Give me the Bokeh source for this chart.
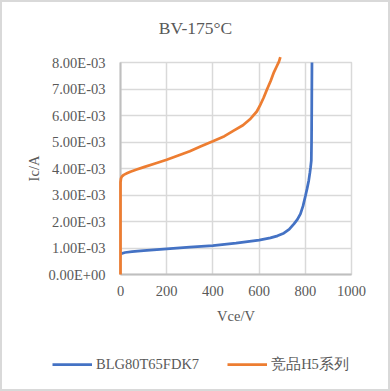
from bokeh.plotting import figure
from bokeh.layouts import column, row
from bokeh.models import Range1d, FixedTicker, CustomJSTickFormatter, Legend, LegendItem, Label
from bokeh.embed import file_html
from bokeh.resources import INLINE

# ---- data ----
blg_vce = [0, 20, 50, 100, 200, 300, 400, 500, 600, 649, 680, 707, 730, 751, 766, 779, 790,
           801, 808, 815, 820, 823, 826, 827, 828, 829]
blg_ic = [0.78e-3, 0.83e-3, 0.86e-3, 0.90e-3, 0.97e-3, 1.03e-3, 1.09e-3, 1.18e-3, 1.30e-3,
          1.38e-3, 1.46e-3, 1.56e-3, 1.70e-3, 1.91e-3, 2.08e-3, 2.29e-3, 2.58e-3, 2.98e-3,
          3.25e-3, 3.55e-3, 3.85e-3, 4.05e-3, 4.30e-3, 5.00e-3, 6.50e-3, 8.20e-3]

h5_vce = [0, 0, 2, 6, 14, 30, 43, 70, 101, 150, 200, 250, 300, 346, 400, 450, 490, 530, 563,
          590, 603, 620, 635, 650, 664, 676, 686, 692]
h5_ic = [0.0, 3.48e-3, 3.62e-3, 3.70e-3, 3.76e-3, 3.83e-3, 3.88e-3, 3.96e-3, 4.05e-3, 4.19e-3,
         4.33e-3, 4.49e-3, 4.65e-3, 4.83e-3, 5.03e-3, 5.22e-3, 5.43e-3, 5.63e-3, 5.88e-3,
         6.15e-3, 6.36e-3, 6.68e-3, 7.00e-3, 7.30e-3, 7.63e-3, 7.85e-3, 8.03e-3, 8.20e-3]

x_ticks = [0, 200, 400, 600, 800, 1000]
y_ticks = [0, 1e-3, 2e-3, 3e-3, 4e-3, 5e-3, 6e-3, 7e-3, 8e-3]

title_text = "BV-175°C"
x_label = "Vce/V"
y_label = "Ic/A"
series_names = ["BLG80T65FDK7", "竞品H5系列"]

BLUE = "#4472C4"
ORANGE = "#ED7D31"
TXT = "#595959"
GRID = "#d9d9d9"
FONT = "Liberation Serif"


def strip(height):
    f = figure(width=390, height=height, output_backend="svg", toolbar_location=None,
               x_range=Range1d(-2, -1), y_range=Range1d(-2, -1), title=None,
               min_border_left=0, min_border_right=0, min_border_top=0, min_border_bottom=0)
    f.axis.visible = False
    f.grid.visible = False
    f.outline_line_color = None
    f.background_fill_alpha = 0
    f.border_fill_alpha = 0
    return f


# ---- title strip ----
tf = strip(40)
tf.add_layout(Label(x=195, y=40 - 27, x_units="screen", y_units="screen", text=title_text,
                    text_align="center", text_baseline="middle", text_font=FONT,
                    text_font_size="17.5px", text_color=TXT))

# ---- main chart ----
p = figure(width=390, height=295, output_backend="svg", toolbar_location=None, title=None,
           x_range=Range1d(0, 1000), y_range=Range1d(0, 8e-3),
           min_border_left=120, min_border_right=39, min_border_top=22, min_border_bottom=61)

p.background_fill_color = "white"
p.border_fill_alpha = 0
p.outline_line_color = GRID
p.outline_line_width = 1.5

for ax in (p.xaxis[0], p.yaxis[0]):
    ax.major_tick_line_color = None
    ax.minor_tick_line_color = None
    ax.axis_line_color = "#bfbfbf"
    ax.axis_line_width = 2
    ax.major_label_text_font = FONT
    ax.major_label_text_font_size = "14.5px"
    ax.major_label_text_color = TXT
    ax.axis_label_text_font = FONT
    ax.axis_label_text_font_size = "14.5px"
    ax.axis_label_text_font_style = "normal"
    ax.axis_label_text_color = TXT

p.xaxis.ticker = FixedTicker(ticks=x_ticks)
p.yaxis.ticker = FixedTicker(ticks=y_ticks)
p.yaxis.formatter = CustomJSTickFormatter(code="""
    var s = tick.toExponential(2).toUpperCase();
    var parts = s.split("E");
    var e = parts[1];
    var sign = e[0];
    var d = e.slice(1);
    if (d.length < 2) { d = "0" + d; }
    return parts[0] + "E" + sign + d;
""")
p.xaxis.axis_label = x_label
p.yaxis.axis_label = y_label
p.xaxis.major_label_standoff = 5
p.yaxis.major_label_standoff = 9
p.xaxis.axis_label_standoff = 9
p.yaxis.axis_label_standoff = 4

p.grid.grid_line_color = GRID
p.grid.grid_line_width = 1.5
p.xgrid.ticker = FixedTicker(ticks=x_ticks)
p.ygrid.ticker = FixedTicker(ticks=y_ticks)

p.line(blg_vce, blg_ic, line_color=BLUE, line_width=2.75)
p.line(h5_vce, h5_ic, line_color=ORANGE, line_width=2.75, level="overlay")

# ---- legend strip below the chart (its ranges keep the series out of view) ----
lg = strip(56)
l1 = lg.line(blg_vce, blg_ic, line_color=BLUE, line_width=2.75)
l2 = lg.line(h5_vce, h5_ic, line_color=ORANGE, line_width=2.75)
legend = Legend(items=[LegendItem(label=series_names[0], renderers=[l1]),
                       LegendItem(label=series_names[1], renderers=[l2])],
                orientation="horizontal", location=(52, 17),
                padding=0, margin=0, spacing=28, label_standoff=4,
                glyph_width=40, glyph_height=20,
                border_line_color=None, background_fill_alpha=0,
                label_text_font=FONT, label_text_font_size="14.5px",
                label_text_color=TXT)
lg.add_layout(legend, "center")

layout = column(row(tf, width=390, height=40), p, row(lg, width=390, height=56),
                width=390, height=391, spacing=0,
                styles={"box-shadow": "inset 0 0 0 2px #d9d9d9"})

open("out.html", "w").write(file_html(layout, INLINE))
